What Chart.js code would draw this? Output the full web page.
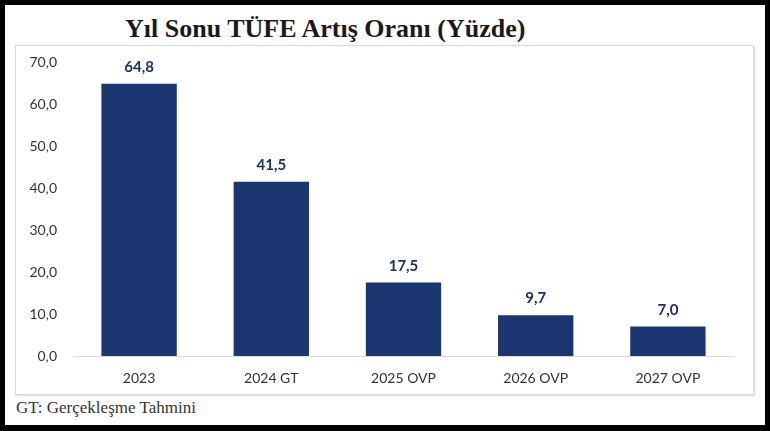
<!DOCTYPE html>
<html>
<head>
<meta charset="utf-8">
<script src="https://cdn.jsdelivr.net/npm/chart.js@4"></script>
<style>
    html, body { margin: 0; padding: 0; background: #000; }
    #page { position: absolute; left: 5px; top: 5px; width: 760px; height: 420px; background: #fff; }
    #title { position: absolute; left: 120px; top: 9px; font-family: "Liberation Serif", serif; font-weight: bold; font-size: 26px; color: #1a1a1a; white-space: nowrap; }
    #box { position: absolute; left: 10px; top: 40px; width: 737px; height: 348px; border: 1px solid #d9d9d9; box-shadow: 1px 1px 2px rgba(0,0,0,0.15); }
    #note { position: absolute; left: 11px; top: 393px; font-family: "Liberation Serif", serif; font-size: 17px; color: #333; white-space: nowrap; }
    #wrap { position: absolute; left: 0; top: 0; width: 770px; height: 431px; }
</style>
</head>
<body>
<div id="page">
    <div id="title">Yıl Sonu TÜFE Artış Oranı (Yüzde)</div>
    <div id="box"></div>
    <div id="note">GT: Gerçekleşme Tahmini</div>
</div>
<div id="wrap"><canvas id="tufeChart" width="770" height="431"></canvas></div>
<script>
const kategoriler = ['2023', '2024 GT', '2025 OVP', '2026 OVP', '2027 OVP'];
const oranlar = [64.8, 41.5, 17.5, 9.7, 7.0];
const yEksen = [0, 10, 20, 30, 40, 50, 60, 70];

const virgul = v => v.toFixed(1).replace('.', ',');

// değer etiketleri (çubukların üstü)
const degerEtiketi = {
    id: 'degerEtiketi',
    afterDatasetsDraw(chart) {
        const ctx = chart.ctx;
        const meta = chart.getDatasetMeta(0);
        ctx.save();
        ctx.font = 'bold 15px Lato, sans-serif';
        ctx.fillStyle = '#1c3064';
        ctx.textAlign = 'center';
        ctx.textBaseline = 'alphabetic';
        meta.data.forEach((bar, i) => {
            ctx.fillText(virgul(oranlar[i]), bar.x, bar.y - 12);
        });
        ctx.restore();
    }
};

const ctx = document.getElementById('tufeChart').getContext('2d');
new Chart(ctx, {
    type: 'bar',
    data: {
        labels: kategoriler,
        datasets: [{
            data: oranlar,
            backgroundColor: '#1c3672',
            barPercentage: 0.57,
            categoryPercentage: 1
        }]
    },
    options: {
        responsive: false,
        animation: false,
        layout: { padding: { top: 62, right: 36, bottom: 35, left: 0 } },
        scales: {
            y: {
                min: 0, max: 70,
                afterFit: s => { s.width = 73; },
                afterBuildTicks: s => { s.ticks = yEksen.map(v => ({ value: v })); },
                grid: { display: false, drawTicks: false },
                border: { display: false },
                ticks: { color: '#333', font: { family: 'Lato', size: 14 }, padding: 16, callback: v => virgul(v) }
            },
            x: {
                afterFit: s => { s.height = 40; },
                grid: { display: false, drawTicks: false },
                border: { display: true, color: '#d9d9d9', width: 1 },
                ticks: { color: '#333', font: { family: 'Lato', size: 14 }, padding: 14 }
            }
        },
        plugins: { legend: { display: false }, tooltip: { enabled: false } }
    },
    plugins: [degerEtiketi]
});
</script>
</body>
</html>
